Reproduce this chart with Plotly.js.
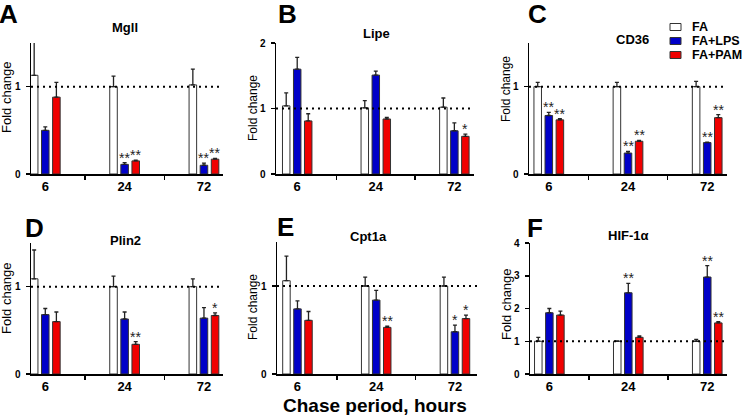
<!DOCTYPE html>
<html>
<head>
<meta charset="utf-8">
<script src="https://cdn.plot.ly/plotly-3.0.1.min.js"></script>
<style>
  body { margin: 0; background: #fff; }
  #chart { width: 745px; height: 415px; }
</style>
</head>
<body>
<div id="chart"></div>
<script>
// fold change of lipid genes after the chase period, 3 treatment groups

const hours = ['6', '24', '72'];
const groups = ['FA', 'FA+LPS', 'FA+PAM'];
const genes = ['Mgll', 'Lipe', 'CD36', 'Plin2', 'Cpt1a', 'HIF-1α'];

// rows = FA, FA+LPS, FA+PAM ; columns = 6, 24, 72 h
const mgllMean  = [[1.13, 1.00, 1.02], [0.50, 0.11, 0.10], [0.88, 0.15, 0.17]];
const mgllSem   = [[0.45, 0.12, 0.18], [0.04, 0.02, 0.025], [0.17, 0.01, 0.01]];
const mgllStars = [['', '', ''], ['', '**', '**'], ['', '**', '**']];

const lipeMean  = [[1.04, 1.01, 1.02], [1.60, 1.51, 0.66], [0.81, 0.84, 0.575]];
const lipeSem   = [[0.20, 0.11, 0.14], [0.18, 0.06, 0.12], [0.11, 0.025, 0.035]];
const lipeStars = [['', '', ''], ['', '', ''], ['', '', '*']];

const cd36Mean  = [[1.00, 1.00, 1.00], [0.67, 0.24, 0.36], [0.62, 0.375, 0.645]];
const cd36Sem   = [[0.05, 0.05, 0.06], [0.035, 0.02, 0.005], [0.015, 0.01, 0.035]];
const cd36Stars = [['', '', ''], ['**', '**', '**'], ['**', '**', '**']];

const plin2Mean  = [[1.09, 1.00, 1.00], [0.68, 0.63, 0.64], [0.60, 0.34, 0.67]];
const plin2Sem   = [[0.33, 0.12, 0.09], [0.07, 0.08, 0.12], [0.11, 0.03, 0.03]];
const plin2Stars = [['', '', ''], ['', '', ''], ['', '**', '*']];

const cpt1aMean  = [[1.06, 1.00, 1.00], [0.74, 0.84, 0.48], [0.61, 0.53, 0.63]];
const cpt1aSem   = [[0.28, 0.10, 0.10], [0.09, 0.11, 0.075], [0.10, 0.015, 0.04]];
const cpt1aStars = [['', '', ''], ['', '', '*'], ['', '**', '*']];

const hifMean  = [[1.00, 1.00, 1.00], [1.87, 2.48, 2.96], [1.80, 1.12, 1.56]];
const hifSem   = [[0.12, 0.01, 0.06], [0.13, 0.29, 0.35], [0.12, 0.04, 0.04]];
const hifStars = [['', '', ''], ['', '**', '**'], ['', '', '**']];

const yMax = [1.5, 2, 1.5, 1.5, 1.5, 4];
const yTicks = [[0, 1], [0, 1, 2], [0, 1], [0, 1], [0, 1], [0, 1, 2, 3, 4]];

const barColors = ['#ffffff', '#0000c8', '#f00000'];
const W = 745, H = 415;
const FONT = 'Arial, "Liberation Sans", sans-serif';
const NARROW = '"Liberation Sans Narrow", "Arial Narrow", Arial, sans-serif';

// where each panel sits, in pixels (axis left, axis right, top, zero line)
// plus the category range so the bars land where they do in the figure
const panels = [
    {mean: mgllMean,  sem: mgllSem,  stars: mgllStars,  px: [31, 223],  py: [43, 174],  xr: [-0.18, 2.24],
     letter: [8, 14],   title: [125, 27],  ytitle: [6, 97, 13, NARROW]},
    {mean: lipeMean,  sem: lipeSem,  stars: lipeStars,  px: [276, 474], py: [43, 174],  xr: [-0.27, 2.25],
     letter: [287, 14], title: [376, 34],  ytitle: [253, 108, 12, FONT]},
    {mean: cd36Mean,  sem: cd36Sem,  stars: cd36Stars,  px: [529, 727], py: [43, 174],  xr: [-0.25, 2.25],
     letter: [537, 14], title: [632, 39],  ytitle: [506, 89, 12, NARROW]},
    {mean: plin2Mean, sem: plin2Sem, stars: plin2Stars, px: [31, 223],  py: [243, 374], xr: [-0.18, 2.24],
     letter: [34, 228], title: [125, 240], ytitle: [6, 298, 13, NARROW]},
    {mean: cpt1aMean, sem: cpt1aSem, stars: cpt1aStars, px: [277, 477], py: [242, 374], xr: [-0.26, 2.28],
     letter: [285, 227], title: [368, 236], ytitle: [253, 307, 12, FONT]},
    {mean: hifMean,   sem: hifSem,   stars: hifStars,   px: [530, 727], py: [243, 374], xr: [-0.245, 2.25],
     letter: [535, 228], title: [628, 235], ytitle: [506, 304, 13, NARROW]}
];

// legend drawn by hand so the rows can sit as close as in the figure
const legendRows = [27, 41, 55];

function paper_x(px) { return px / W; }
function paper_y(py) { return 1 - py / H; }

const traces = [];
const annotations = [];
const shapes = [];
const layout = {
    width: W, height: H,
    margin: {l: 0, r: 0, t: 0, b: 0},
    paper_bgcolor: '#fff', plot_bgcolor: 'rgba(0,0,0,0)',
    barmode: 'group', bargap: 0.58, bargroupgap: 0.32,
    font: {family: FONT, color: '#000'},
    showlegend: false
};

panels.forEach(function(p, i) {
    const n = i === 0 ? '' : String(i + 1);
    const xname = 'x' + n, yname = 'y' + n;

    groups.forEach(function(g, k) {
        traces.push({
            type: 'bar', x: hours, y: p.mean[k], name: g,
            xaxis: xname, yaxis: yname,
            marker: {color: barColors[k], line: {color: '#333', width: 1}},
            error_y: {type: 'data', symmetric: false, array: p.sem[k],
                      arrayminus: p.sem[k].map(function() { return 0; }),
                      color: '#222', thickness: 1.3, width: 2}
        });
        // significance marks sit on top of the error bar
        // (category axis -> annotation x is the category index)
        p.stars[k].forEach(function(s, j) {
            if (!s) return;
            annotations.push({
                xref: xname, yref: yname, x: j, y: p.mean[k][j] + p.sem[k][j],
                text: s, showarrow: false, xanchor: 'center', yanchor: 'bottom',
                xshift: (k - 1) * 11, yshift: -5,
                font: {size: 14, color: '#222'}
            });
        });
    });

    layout['xaxis' + n] = {
        domain: [paper_x(p.px[0]), paper_x(p.px[1])], anchor: yname,
        type: 'category', categoryarray: hours, range: p.xr,
        tickson: 'boundaries', ticks: 'outside', ticklen: 4, tickwidth: 1.5, tickcolor: '#000',
        showline: true, linewidth: 1.5, linecolor: '#000',
        showgrid: false, zeroline: false, fixedrange: true,
        tickfont: {size: 13, weight: 'bold', family: FONT}
    };
    layout['yaxis' + n] = {
        domain: [paper_y(p.py[1]), paper_y(p.py[0])], anchor: xname,
        range: [0, yMax[i]], tickvals: yTicks[i],
        ticks: 'outside', ticklen: 4, tickwidth: 1.5, tickcolor: '#000',
        showline: true, linewidth: 1.5, linecolor: '#000',
        showgrid: false, zeroline: false, fixedrange: true,
        ticklabelstandoff: 3,
        tickfont: {size: 10, weight: 'bold', family: FONT}
    };

    // dotted reference line at fold change = 1
    shapes.push({type: 'line', xref: xname + ' domain', yref: yname,
                 x0: 0, x1: 1, y0: 1, y1: 1, layer: 'above',
                 line: {color: '#000', width: 2, dash: '2px,4px'}});

    annotations.push({xref: 'paper', yref: 'paper',
                      x: paper_x(p.letter[0]), y: paper_y(p.letter[1]),
                      xanchor: 'center', yanchor: 'middle', showarrow: false,
                      text: 'ABCDEF'[i], font: {size: 26, weight: 'bold'}});
    annotations.push({xref: 'paper', yref: 'paper',
                      x: paper_x(p.title[0]), y: paper_y(p.title[1]),
                      xanchor: 'center', yanchor: 'middle', showarrow: false,
                      text: genes[i], font: {size: 13, weight: 'bold'}});
    annotations.push({xref: 'paper', yref: 'paper',
                      x: paper_x(p.ytitle[0]), y: paper_y(p.ytitle[1]),
                      xanchor: 'center', yanchor: 'middle', showarrow: false,
                      textangle: -90, text: 'Fold change',
                      font: {size: p.ytitle[2], family: p.ytitle[3]}});
});

groups.forEach(function(g, k) {
    const cy = legendRows[k];
    shapes.push({type: 'rect', xref: 'paper', yref: 'paper',
                 x0: paper_x(670), x1: paper_x(681), y0: paper_y(cy - 3.5), y1: paper_y(cy + 3.5),
                 fillcolor: barColors[k], line: {color: '#333', width: 1}});
    annotations.push({xref: 'paper', yref: 'paper', x: paper_x(690), y: paper_y(cy),
                      xanchor: 'left', yanchor: 'middle', showarrow: false,
                      text: g, font: {size: 12.5, weight: 'bold'}});
});

annotations.push({xref: 'paper', yref: 'paper', x: paper_x(375), y: paper_y(405),
                  xanchor: 'center', yanchor: 'middle', showarrow: false,
                  text: 'Chase period, hours', font: {size: 19, weight: 'bold'}});

layout.annotations = annotations;
layout.shapes = shapes;

Plotly.newPlot('chart', traces, layout, {staticPlot: true});
</script>
</body>
</html>
